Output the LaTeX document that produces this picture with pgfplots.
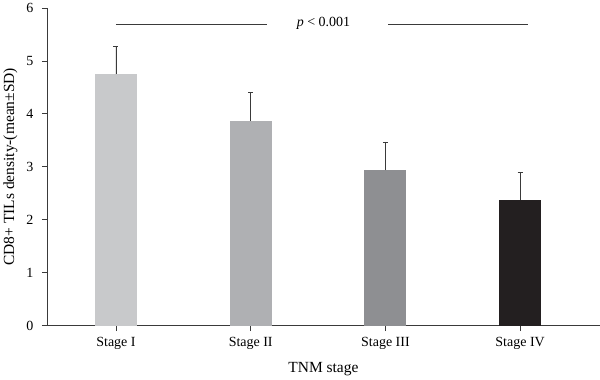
\documentclass[border=0pt]{standalone}
\usepackage{pgfplots}
\pgfplotsset{compat=1.18}
\usepackage{fontspec}
\setmainfont{Liberation Serif}
\definecolor{barA}{HTML}{C8C9CB}
\definecolor{barB}{HTML}{AFB0B3}
\definecolor{barC}{HTML}{8E8F92}
\definecolor{barD}{HTML}{231F20}
\definecolor{axc}{HTML}{3A3A3A}
\begin{document}
\begin{tikzpicture}
\begin{axis}[
  scale only axis,
  width=553pt, height=318pt,
  xmin=-0.51, xmax=3.59,
  ymin=0, ymax=6,
  axis lines*=left,
  axis line style={axc, line width=0.8pt},
  xtick={0,1,2,3},
  xticklabels={Stage I, Stage II, Stage III, Stage IV},
  ytick={0,1,2,3,4,5,6},
  tick style={axc, line width=0.8pt},
  tick align=outside,
  major tick length=5.5pt,
  /pgf/number format/assume math mode=true,
  tick label style={font=\fontsize{14}{16}\selectfont, text=black},
  yticklabel style={xshift=-5pt},
  xticklabel style={yshift=-3pt},
  xlabel={TNM stage},
  ylabel={CD8+ TILs density-(mean\textpm SD)},
  label style={font=\fontsize{15.5}{17}\selectfont},
  ylabel style={yshift=2pt},
  xlabel style={yshift=-6pt},
  ybar, bar width=42pt, bar shift=0pt,
  clip=false,
]
\addplot[fill=barA, draw=none, error bars/.cd, y dir=plus, y explicit, error bar style={color=axc, line width=0.6pt}, error mark options={rotate=90, mark size=2.5pt, color=axc, line width=0.6pt}]
  coordinates {(0,4.75) +- (0,0.52)};
\addplot[fill=barB, draw=none, error bars/.cd, y dir=plus, y explicit, error bar style={color=axc, line width=0.6pt}, error mark options={rotate=90, mark size=2.5pt, color=axc, line width=0.6pt}]
  coordinates {(1,3.87) +- (0,0.53)};
\addplot[fill=barC, draw=none, error bars/.cd, y dir=plus, y explicit, error bar style={color=axc, line width=0.6pt}, error mark options={rotate=90, mark size=2.5pt, color=axc, line width=0.6pt}]
  coordinates {(2,2.94) +- (0,0.53)};
\addplot[fill=barD, draw=none, error bars/.cd, y dir=plus, y explicit, error bar style={color=axc, line width=0.6pt}, error mark options={rotate=90, mark size=2.5pt, color=axc, line width=0.6pt}]
  coordinates {(3,2.37) +- (0,0.53)};
\draw[axc, line width=0.8pt] (axis cs:0,5.70) -- (axis cs:1.12,5.70);
\draw[axc, line width=0.8pt] (axis cs:2.02,5.70) -- (axis cs:3.06,5.70);
\node[font=\fontsize{14}{16}\selectfont] at (axis cs:1.54,5.72) {\textit{p} < 0.001};
\end{axis}
\end{tikzpicture}
\end{document}
